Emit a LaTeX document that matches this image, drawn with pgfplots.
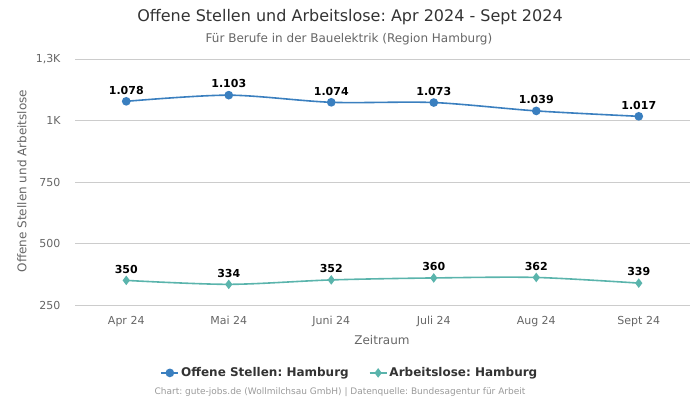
\documentclass[border=0pt]{standalone}
\usepackage{pgfplots}
\pgfplotsset{compat=1.18}
\usepackage{fontspec}
\setmainfont{DejaVu Sans}
\frenchspacing
\definecolor{cblue}{HTML}{3A7FBF}
\definecolor{cteal}{HTML}{5AB4AC}
\definecolor{tgray}{HTML}{666666}
\definecolor{tdark}{HTML}{333333}
\definecolor{fgray}{HTML}{9A9A9A}
\begin{document}
\begin{tikzpicture}[x=1pt,y=1pt]
\path[use as bounding box] (0,0) rectangle (700,400);
\begin{axis}[at={(75pt,95pt)}, anchor=south west, scale only axis,
 width=615pt, height=246pt,
 xmin=-0.5, xmax=5.5, ymin=250, ymax=1250,
 axis line style={draw=none}, tick style={draw=none},
 ymajorgrids, grid style={color=black!20, line width=0.8pt},
 xtick={0,...,5}, xticklabels={Apr 24,Mai 24,Juni 24,Juli 24,Aug 24,Sept 24},
 ytick={250,500,750,1000,1250}, yticklabels={250,500,750,1K,{1,3K}},
 ticklabel style={font=\fontsize{11}{13}\selectfont, text=tgray},
 yticklabel style={xshift=-11pt},
 xticklabel style={yshift=-8pt},
 /pgf/number format/assume math mode=true,
 /pgf/number format/1000 sep={.},
 nodes near coords,
 every node near coord/.append style={font=\bfseries\fontsize{11}{13}\selectfont, text=black, yshift=3pt},
 legend style={at={(axis description cs:0.447,-0.276)}, anchor=center, draw=none, fill=none,
   font=\bfseries\fontsize{12}{14}\selectfont, text=tdark,
   /tikz/every even column/.append style={column sep=18pt}},
 legend columns=2,
 legend cell align=left,
 clip=false,
]
\addplot[color=cblue, line width=1.6pt, smooth, tension=0.5, mark=*, mark size=3.5pt, mark options={fill=cblue}]
 coordinates {(0,1078) (1,1103) (2,1074) (3,1073) (4,1039) (5,1017)};
\addlegendentry{Offene Stellen: Hamburg}
\addplot[color=cteal, line width=1.6pt, smooth, tension=0.5, mark=diamond*, mark size=3.5pt, mark options={fill=cteal}]
 coordinates {(0,350) (1,334) (2,352) (3,360) (4,362) (5,339)};
\addlegendentry{Arbeitslose: Hamburg}
\end{axis}
\node[font=\fontsize{16}{18}\selectfont, text=tdark] at (350,383) {Offene Stellen und Arbeitslose: Apr 2024 - Sept 2024};
\node[font=\fontsize{12}{14}\selectfont, text=tgray] at (349,361) {Für Berufe in der Bauelektrik (Region Hamburg)};
\node[font=\fontsize{12}{14}\selectfont, text=tgray] at (382,60) {Zeitraum};
\node[font=\fontsize{12}{14}\selectfont, text=tgray, rotate=90] at (22,219) {Offene Stellen und Arbeitslose};
\node[font=\fontsize{9}{11}\selectfont, text=fgray] at (340,8) {Chart: gute-jobs.de (Wollmilchsau GmbH) | Datenquelle: Bundesagentur für Arbeit};
\end{tikzpicture}
\end{document}
